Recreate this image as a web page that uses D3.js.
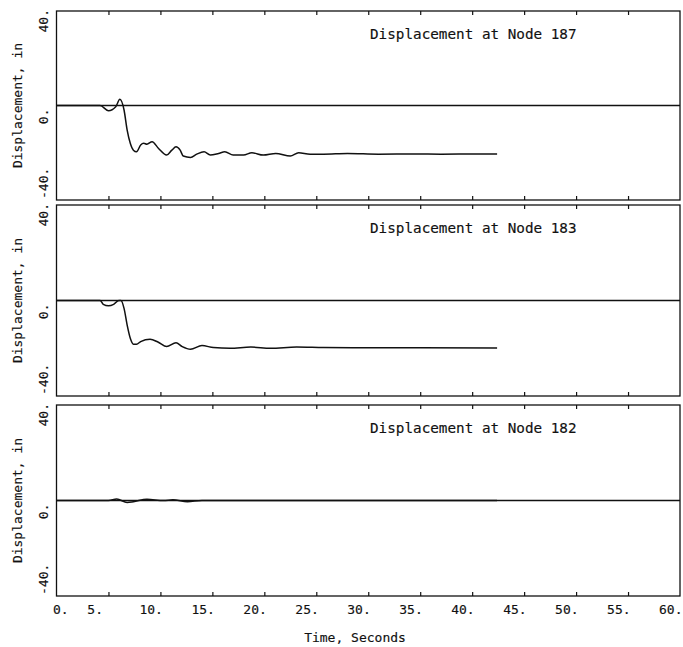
<!DOCTYPE html>
<html>
<head>
<meta charset="utf-8">
<script src="https://cdn.jsdelivr.net/npm/d3@7"></script>
<style>
  body { margin: 0; background: #fff; }
  svg { display: block; }
  text { font-family: "DejaVu Sans Mono", monospace; fill: #111; stroke: #111; stroke-width: 0.15px; }
</style>
</head>
<body>
<div id="chart"></div>
<script>
var xTicks = [0, 5, 10, 15, 20, 25, 30, 35, 40, 45, 50, 55, 60];
var yTicks = [-40, 0, 40];
var nodeNames = ["187", "183", "182"];

// node 187
var time187 = [0, 4.2, 5.0, 5.7, 6.1, 6.5, 6.8, 7.1, 7.4, 7.7, 8.1, 8.4, 8.7, 9.2, 9.8, 10.6, 11.1, 11.5, 11.9, 12.2,
    12.9, 13.5, 14.2, 14.8, 15.6, 16.2, 17.0, 18.0, 18.8, 19.9, 21.1, 22.5, 23.3, 24.4, 25.7, 28, 31, 34, 37, 40, 42.4];
var disp187 = [0, 0, -2.2, -0.5, 2.6, -1.9, -10.4, -16, -18.9, -19.6, -16.7, -16, -16.4, -15.3, -18.1, -21, -18.9, -17.5, -18.9, -21.4,
    -22, -20.6, -19.6, -21, -20.3, -19.6, -21, -21, -20, -21, -20.3, -21.4, -20, -20.6, -20.6, -20.3, -20.6, -20.5, -20.6, -20.5, -20.5];

// node 183
var time183 = [0, 4.2, 4.5, 5.0, 5.5, 6.0, 6.2, 6.5, 6.8, 7.1, 7.4, 7.7, 8.1, 9.0, 9.8, 10.6, 11.5, 12.1, 12.9, 14.0,
    15.1, 16.7, 18.7, 20.6, 23.1, 25.7, 30, 35, 42.4];
var disp183 = [0, 0, -1.6, -2.2, -1.6, 0, 0, -3.3, -10.3, -15.8, -18.3, -18.3, -17.2, -16.2, -17.5, -19.3, -17.7, -19.3, -20.4, -18.9,
    -19.7, -20, -19.5, -20, -19.5, -19.7, -19.8, -19.8, -19.9];

// node 182
var time182 = [0, 5.0, 5.8, 6.8, 7.4, 8.7, 10.3, 11.2, 12.6, 14, 42.4];
var disp182 = [0, 0, 0.6, -0.8, -0.5, 0.5, 0, 0.3, -0.5, 0, 0];

var seriesTimes = [time187, time183, time182];
var seriesDisp = [disp187, disp183, disp182];

var width = 683, height = 647;
var left = 56.5, right = 680;
var panelTop = [11, 205, 405], panelBottom = [200, 396, 596];

var svg = d3.select("#chart").append("svg")
    .attr("width", width)
    .attr("height", height);

var x = d3.scaleLinear().domain([0, 60]).range([left, right]);

for (var i = 0; i < 3; i++) {
    (function (i) {
        var y = d3.scaleLinear().domain([-40, 40]).range([panelBottom[i], panelTop[i]]);
        var g = svg.append("g").attr("class", "panel");

        // frame
        g.append("rect")
            .attr("x", left)
            .attr("y", panelTop[i])
            .attr("width", right - left)
            .attr("height", panelBottom[i] - panelTop[i])
            .style("fill", "none")
            .style("stroke", "#111")
            .style("stroke-width", 1.3);

        // inward ticks top and bottom
        var inner = xTicks.slice(1, -1);
        var bot = g.append("g")
            .attr("transform", "translate(0," + panelBottom[i] + ")")
            .call(d3.axisBottom(x).tickValues(inner).tickSizeInner(-4).tickSizeOuter(0).tickFormat(""));
        var top = g.append("g")
            .attr("transform", "translate(0," + panelTop[i] + ")")
            .call(d3.axisTop(x).tickValues(inner).tickSizeInner(-4).tickSizeOuter(0).tickFormat(""));
        [bot, top].forEach(function (a) {
            a.select(".domain").remove();
            a.selectAll("line").style("stroke", "#111").style("stroke-width", 1.2);
        });

        // y tick labels, rotated
        var yAx = g.append("g")
            .attr("transform", "translate(" + left + ",0)")
            .call(d3.axisLeft(y).tickValues(yTicks).tickSize(0).tickFormat(function (d) { return d + "."; }));
        yAx.select(".domain").remove();
        yAx.selectAll(".tick").attr("transform", null);
        yAx.selectAll(".tick text")
            .attr("x", null).attr("dy", null)
            .attr("transform", function (d) {
                var yy = d === -40 ? y(d) - 1 : (d === 0 ? y(d) + 3 : y(d) - 2);
                return "translate(" + (48 - left) + "," + yy + ") rotate(-90)";
            })
            .attr("text-anchor", function (d) { return d === -40 ? "start" : "end"; })
            .style("font-size", "13px")
            .style("font-family", "DejaVu Sans Mono, monospace")
            .style("fill", "#111");

        // zero line across the panel
        g.append("line")
            .attr("x1", x(0)).attr("x2", x(60))
            .attr("y1", y(0)).attr("y2", y(0))
            .style("stroke", "#111")
            .style("stroke-width", 1.3);

        // response curve
        var pts = seriesTimes[i].map(function (t, k) { return {x: t, y: seriesDisp[i][k]}; });
        var line = d3.line()
            .curve(d3.curveMonotoneX)
            .x(function (d) { return x(d.x); })
            .y(function (d) { return y(d.y); });
        g.append("path")
            .attr("d", line(pts))
            .style("fill", "none")
            .style("stroke", "#111")
            .style("stroke-width", 1.5);

        // title
        g.append("text")
            .attr("x", 370)
            .attr("y", panelTop[i] + 28)
            .style("font-size", "14.3px")
            .text("Displacement at Node " + nodeNames[i]);

        // y label
        g.append("text")
            .attr("transform", "translate(22," + (panelTop[i] + panelBottom[i]) / 2 + ") rotate(-90)")
            .attr("text-anchor", "middle")
            .style("font-size", "13px")
            .text("Displacement, in");
    })(i);
}

// x tick labels under the bottom panel
var xAx = svg.append("g")
    .attr("transform", "translate(0," + panelBottom[2] + ")")
    .call(d3.axisBottom(x).tickValues(xTicks).tickSize(0).tickFormat(function (d) { return d + "."; }));
xAx.select(".domain").remove();
xAx.selectAll(".tick text")
    .attr("y", 18)
    .attr("dy", null)
    .attr("text-anchor", function (d) { return d === 0 ? "start" : "end"; })
    .attr("x", function (d) { return d === 0 ? -4 : (d === 5 ? -6 : 2); })
    .style("font-size", "13px")
    .style("font-family", "DejaVu Sans Mono, monospace")
    .style("fill", "#111");

svg.append("text")
    .attr("x", 355)
    .attr("y", 642)
    .attr("text-anchor", "middle")
    .style("font-size", "13px")
    .text("Time, Seconds");
</script>
</body>
</html>
